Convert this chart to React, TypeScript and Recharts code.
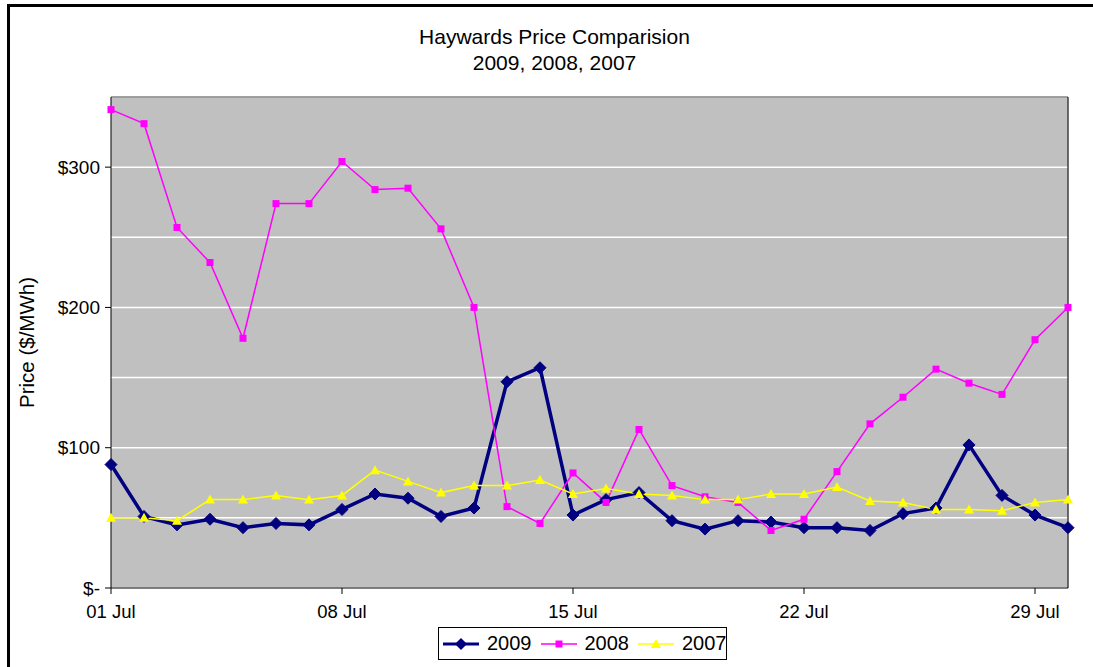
import React from "react";
import {
  LineChart,
  Line,
  XAxis,
  YAxis,
  CartesianGrid,
  ReferenceLine,
  Label
} from "recharts";

// day of July, 1..30
const days = [
  1, 2, 3, 4, 5, 6, 7, 8, 9, 10, 11, 12, 13, 14, 15,
  16, 17, 18, 19, 20, 21, 22, 23, 24, 25, 26, 27, 28, 29, 30
];

const price2009 = [
  88, 51, 45, 49, 43, 46, 45, 56, 67, 64, 51, 57, 147, 157, 52,
  63, 68, 48, 42, 48, 47, 43, 43, 41, 53, 57, 102, 66, 52, 43
];

const price2008 = [
  341, 331, 257, 232, 178, 274, 274, 304, 284, 285, 256, 200, 58, 46, 82,
  61, 113, 73, 65, 61, 41, 49, 83, 117, 136, 156, 146, 138, 177, 200
];

const price2007 = [
  50, 50, 48, 63, 63, 66, 63, 66, 84, 76, 68, 73, 73, 77, 67,
  71, 67, 66, 63, 63, 67, 67, 72, 62, 61, 56, 56, 55, 61, 63
];

const xTicks = [1, 8, 15, 22, 29];
const yTicks = [0, 100, 200, 300];
const minorGrid = [50, 150, 250];

const NAVY = "#000080";
const PINK = "#FF00FF";
const YELLOW = "#FFFF00";
const FONT = "'Liberation Sans', Arial, sans-serif";

const chartData = days.map((d, i) => ({
  day: d,
  "2009": price2009[i],
  "2008": price2008[i],
  "2007": price2007[i]
}));

const Diamond = (props: any) => {
  const { cx, cy, index } = props;
  if (cx == null || cy == null) return null;
  const r = 6;
  return (
    <path
      key={`d-${index}`}
      d={`M${cx},${cy - r}L${cx + r},${cy}L${cx},${cy + r}L${cx - r},${cy}Z`}
      fill={NAVY}
      stroke={NAVY}
    />
  );
};

const Square = (props: any) => {
  const { cx, cy, index } = props;
  if (cx == null || cy == null) return null;
  return <rect key={`s-${index}`} x={cx - 3.5} y={cy - 3.5} width={7} height={7} fill={PINK} />;
};

const Triangle = (props: any) => {
  const { cx, cy, index } = props;
  if (cx == null || cy == null) return null;
  return (
    <path
      key={`t-${index}`}
      d={`M${cx},${cy - 5}L${cx + 5},${cy + 4}L${cx - 5},${cy + 4}Z`}
      fill={YELLOW}
    />
  );
};

const legendItems = [
  { name: "2009", color: NAVY, width: 3, shape: "diamond" },
  { name: "2008", color: PINK, width: 1.5, shape: "square" },
  { name: "2007", color: YELLOW, width: 1.5, shape: "triangle" }
];

function LegendBox() {
  return (
    <div
      style={{
        position: "absolute",
        left: 438,
        top: 627,
        width: 289,
        height: 33,
        boxSizing: "border-box",
        border: "1px solid #000",
        background: "#fff",
        display: "flex",
        alignItems: "center",
        paddingLeft: 4,
        fontFamily: FONT,
        fontSize: 20
      }}
    >
      {legendItems.map((it) => (
        <div key={it.name} style={{ display: "flex", alignItems: "center", marginRight: 9 }}>
          <svg width={36} height={16}>
            <line x1={0} y1={8} x2={36} y2={8} stroke={it.color} strokeWidth={it.width} />
            {it.shape === "diamond" && <path d="M18,2L24,8L18,14L12,8Z" fill={it.color} />}
            {it.shape === "square" && <rect x={14.5} y={4.5} width={7} height={7} fill={it.color} />}
            {it.shape === "triangle" && <path d="M18,3L23,12L13,12Z" fill={it.color} />}
          </svg>
          <span style={{ marginLeft: 8 }}>{it.name}</span>
        </div>
      ))}
    </div>
  );
}

export default function App() {
  return (
    <div style={{ position: "fixed", left: 0, top: 0, width: 1093, height: 667, overflow: "hidden", background: "#fff" }}>
      <div
        style={{
          position: "absolute",
          left: 7,
          top: 4,
          width: 1200,
          height: 800,
          boxSizing: "border-box",
          borderTop: "3px solid #000",
          borderLeft: "3px solid #000"
        }}
      />
      <div
        style={{
          position: "absolute",
          left: 0,
          top: 24,
          width: 1109,
          textAlign: "center",
          fontFamily: FONT,
          fontSize: 21,
          lineHeight: "26px"
        }}
      >
        <div>Haywards Price Comparision</div>
        <div>2009, 2008, 2007</div>
      </div>
      <div style={{ position: "absolute", left: 0, top: 0 }}>
        <LineChart
          width={1093}
          height={667}
          data={chartData}
          margin={{ top: 97, right: 25, bottom: 49, left: 31 }}
        >
          <CartesianGrid vertical={false} stroke="#FFFFFF" strokeWidth={1.5} fill="#C0C0C0" fillOpacity={1} />
          {minorGrid.map((v) => (
            <ReferenceLine key={v} y={v} stroke="#FFFFFF" strokeWidth={1.5} />
          ))}
          <ReferenceLine y={350} stroke="#808080" strokeWidth={1.5} />
          <ReferenceLine x={30} stroke="#404040" strokeWidth={1.5} />
          <XAxis
            dataKey="day"
            type="number"
            domain={[1, 30]}
            ticks={xTicks}
            tickFormatter={(d: number) => `${String(d).padStart(2, "0")} Jul`}
            stroke="#000"
            tick={{ fill: "#000", fontSize: 18.5, fontFamily: FONT }}
            tickSize={6}
            tickMargin={11}
            height={30}
          />
          <YAxis
            domain={[0, 350]}
            ticks={yTicks}
            tickFormatter={(v: number) => (v === 0 ? "$-" : `$${v}`)}
            stroke="#000"
            tick={{ fill: "#000", fontSize: 19, fontFamily: FONT }}
            tickSize={6}
            tickMargin={5}
            width={80}
            allowDataOverflow
          >
            <Label
              value="Price ($/MWh)"
              angle={-90}
              position="insideLeft"
              offset={-4}
              style={{ fontSize: 20.5, fontFamily: FONT, fill: "#000", textAnchor: "middle" }}
            />
          </YAxis>
          <Line
            dataKey="2009"
            stroke={NAVY}
            strokeWidth={3.5}
            dot={Diamond}
            activeDot={false}
            isAnimationActive={false}
          />
          <Line
            dataKey="2008"
            stroke={PINK}
            strokeWidth={1.5}
            dot={Square}
            activeDot={false}
            isAnimationActive={false}
          />
          <Line
            dataKey="2007"
            stroke={YELLOW}
            strokeWidth={1.5}
            dot={Triangle}
            activeDot={false}
            isAnimationActive={false}
          />
        </LineChart>
      </div>
      <LegendBox />
    </div>
  );
}
